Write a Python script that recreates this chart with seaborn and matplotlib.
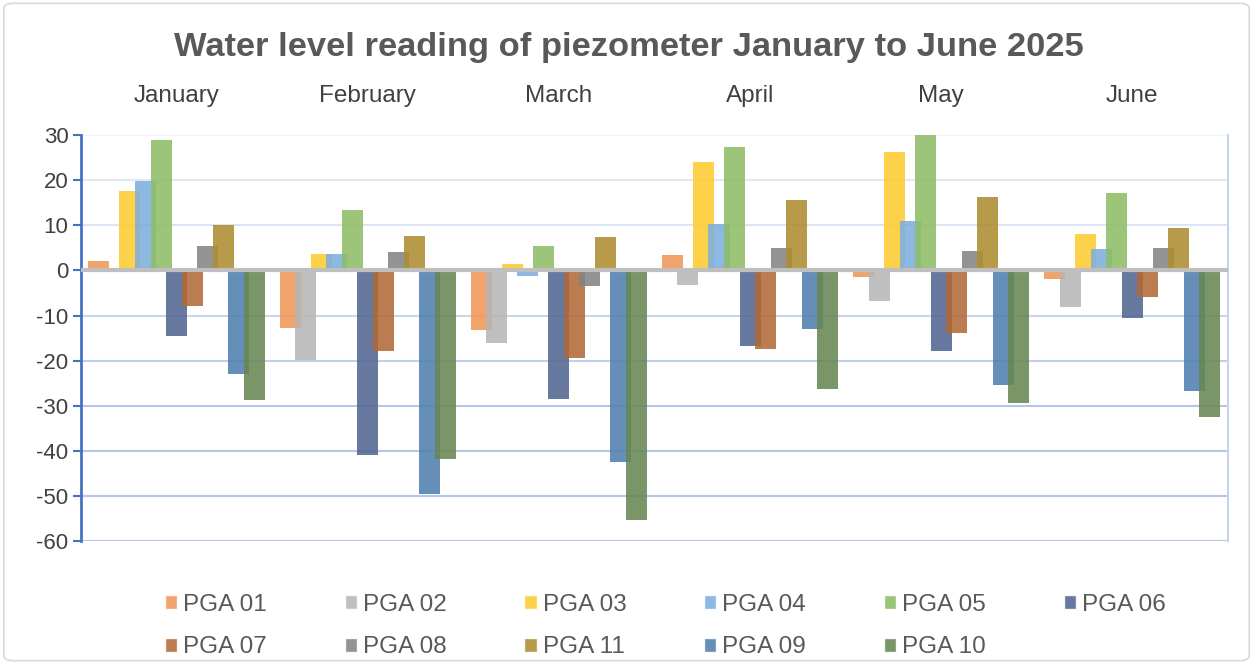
import numpy as np
import pandas as pd
import matplotlib
matplotlib.use('Agg')
import matplotlib.pyplot as plt
import seaborn as sns
from matplotlib.patches import Patch, FancyBboxPatch
from matplotlib.colors import to_rgb

months = ['January', 'February', 'March', 'April', 'May', 'June']
sensors = ['PGA 01', 'PGA 02', 'PGA 03', 'PGA 04', 'PGA 05', 'PGA 06',
           'PGA 07', 'PGA 08', 'PGA 11', 'PGA 09', 'PGA 10']

# readings per sensor, January..June
pga01 = [2.0, -12.8, -13.3, 3.5, -1.5, -1.9]
pga02 = [0.0, -19.8, -16.0, -3.3, -6.7, -8.2]
pga03 = [17.5, 3.7, 1.5, 24.1, 26.2, 8.0]
pga04 = [19.8, 3.7, -1.3, 10.2, 11.0, 4.8]
pga05 = [28.9, 13.3, 5.3, 27.3, 30.3, 17.1]
pga06 = [-14.6, -40.8, -28.5, -16.7, -17.9, -10.5]
pga07 = [-8.0, -17.9, -19.5, -17.5, -13.9, -5.9]
pga08 = [5.3, 4.0, -3.5, 5.0, 4.4, 5.0]
pga11 = [10.0, 7.7, 7.5, 15.5, 16.3, 9.3]
pga09 = [-23.0, -49.5, -42.5, -12.9, -25.5, -26.8]
pga10 = [-28.8, -41.8, -55.3, -26.3, -29.3, -32.5]

series = [pga01, pga02, pga03, pga04, pga05, pga06, pga07, pga08, pga11, pga09, pga10]

# colours as seen on white
seen = ['#F1A46C', '#BFBFBF', '#FDD24A', '#8CB9E3', '#9CC57A', '#68799F',
        '#BA7C50', '#939393', '#B89B4A', '#658FB8', '#7A9567']
ALPHA = 0.88

def base_colour(c, a=ALPHA):
    r = np.array(to_rgb(c))
    return tuple(np.clip(1 - (1 - r) / a, 0, 1))

palette = {s: base_colour(c) for s, c in zip(sensors, seen)}

rows = []
for s, vals in zip(sensors, series):
    for m, v in zip(months, vals):
        rows.append({'month': m, 'sensor': s, 'value': v})
df = pd.DataFrame(rows)

sns.set_style('white')
plt.rcParams['font.family'] = ['Liberation Sans', 'DejaVu Sans']
plt.rcParams['axes.unicode_minus'] = False

fig = plt.figure(figsize=(12.53, 6.64), dpi=100)
ax = fig.add_axes([0.0646, 0.185, 0.9154, 0.6117])

n = len(sensors)
step = 15.5 / 191
sns.barplot(data=df, x='month', y='value', hue='sensor', order=months,
            hue_order=sensors, palette=palette, width=step * n, saturation=1,
            errorbar=None, dodge=True, alpha=ALPHA, legend=False, ax=ax)

# Excel-style overlapping bars
for p in ax.patches:
    w = p.get_width()
    cx = p.get_x() + w / 2
    nw = w * 21 / 15.5
    p.set_x(cx - nw / 2)
    p.set_width(nw)
    p.set_linewidth(0)

ax.set_xlim(-0.5, len(months) - 0.5)
ax.set_ylim(-60, 30)
ax.set_yticks(range(-60, 31, 10))
ax.set_xlabel('')
ax.set_ylabel('')

grid_cols = {30: '#EEF2FA', 20: '#E2E9F5', 10: '#DCE5F4',
             -10: '#C9D7EE', -20: '#BFD0EC', -30: '#B4C7E7', -40: '#B4C7E7',
             -50: '#B4C7E7', -60: '#B4C7E7'}
for t, c in grid_cols.items():
    ax.axhline(t, color=c, lw=1.5, zorder=0)
ax.axhline(0, color='#BFBFBF', lw=3, zorder=5)

ax.xaxis.set_ticks_position('top')
ax.tick_params(axis='x', length=0, pad=20, labelsize=17.5, labelcolor='#404040')
ax.tick_params(axis='y', direction='out', length=6, width=1.5, color='#4472C4',
               pad=3, labelsize=16, labelcolor='#404040', left=True)

for side in ['top', 'bottom']:
    ax.spines[side].set_visible(False)
ax.spines['left'].set_color('#4472C4')
ax.spines['left'].set_linewidth(2)
ax.spines['right'].set_color('#C5D4EE')
ax.spines['right'].set_linewidth(1.5)

fig.text(0.502, 0.928, 'Water level reading of piezometer January to June 2025',
         ha='center', va='center', fontsize=24.8, fontweight='bold', color='#595959')

handles = [Patch(facecolor=palette[s], alpha=ALPHA, label=s) for s in sensors]
order = [0, 6, 1, 7, 2, 8, 3, 9, 4, 10, 5]
fig.legend([handles[i] for i in order], [sensors[i] for i in order],
           loc='center', bbox_to_anchor=(0.531, 0.057), ncol=6, frameon=False,
           fontsize=17.5, labelcolor='#595959', handlelength=0.5, handleheight=0.5,
           handletextpad=0.25, columnspacing=3.2, labelspacing=0.85)

fig.patches.append(FancyBboxPatch((0.003, 0.005), 0.994, 0.99,
                                  boxstyle='round,pad=0,rounding_size=0.008',
                                  transform=fig.transFigure, fill=False,
                                  edgecolor='#D9D9D9', lw=1.2))

fig.savefig('out.png', dpi=100)
